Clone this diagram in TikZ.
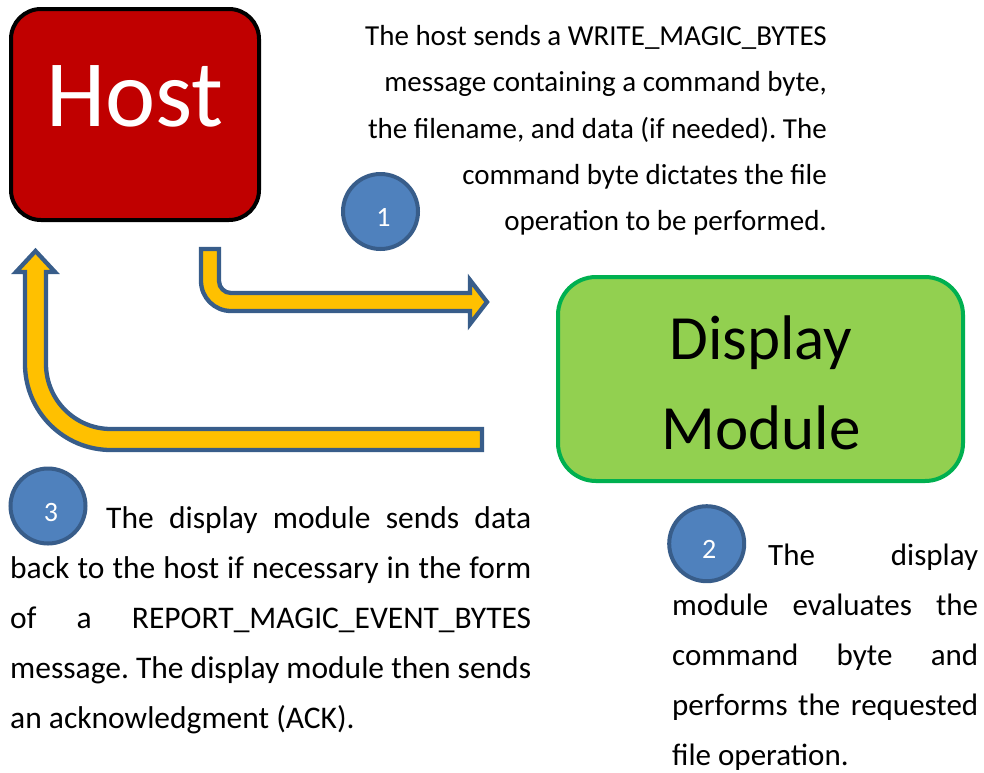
\documentclass[tikz,border=0pt]{standalone}
\usepackage{fontspec}
\setmainfont{Carlito}
\usetikzlibrary{calc}
\definecolor{hostred}{HTML}{C00000}
\definecolor{modgreen}{HTML}{92D050}
\definecolor{modedge}{HTML}{00B050}
\definecolor{stepblue}{HTML}{4F81BD}
\definecolor{edgeblue}{HTML}{385D8A}
\definecolor{flowyellow}{HTML}{FFC000}
\frenchspacing
\begin{document}
\begin{tikzpicture}[x=1pt,y=-1pt,
  hostbox/.style={rectangle, rounded corners=30pt, draw=black, line width=4pt,
    fill=hostred, minimum width=248pt, minimum height=211pt, inner sep=0pt},
  modbox/.style={rectangle, rounded corners=38pt, draw=modedge, line width=4pt,
    fill=modgreen, minimum width=405pt, minimum height=204pt, inner sep=0pt},
  boxlabel/.style={inner sep=0pt, anchor=base},
  badge/.style={circle, draw=edgeblue, line width=4pt, fill=stepblue,
    minimum size=75pt, inner sep=0pt},
  badgenum/.style={text=white, font=\fontsize{28}{28}\selectfont, inner sep=0pt},
  flow/.style={draw=edgeblue, line width=4.3pt, fill=flowyellow, line join=miter},
  note/.style={inner sep=0pt}
]
\useasboundingbox (0,0) rectangle (984,772);

% the two blocks
\node[hostbox] (host) at (135,114.5) {};
\node[boxlabel, text=white, font=\fontsize{95}{95}\selectfont] (hostlabel) at (135,126) {Host};
\node[modbox] (module) at (760.5,379) {};
\node[boxlabel, font=\fontsize{63}{63}\selectfont] (modlabelA) at (761,359) {Display};
\node[boxlabel, font=\fontsize{63}{63}\selectfont] (modlabelB) at (761,449) {Module};

% step 1: bent arrow from the host to the module
\path[flow] (201,249) -- (219,249) -- (219,281)
  arc[start angle=180, end angle=90, radius=12] -- (470,293) -- (470,280)
  -- (487,302) -- (470,324) -- (470,311) -- (231,311)
  arc[start angle=90, end angle=180, radius=30] -- cycle;

% step 3: bent arrow from the module back to the host
\path[flow] (482,429) -- (482,450) -- (111,450)
  arc[start angle=90, end angle=180, radius=86] -- (25,272) -- (16,272)
  -- (35.5,251) -- (55,272) -- (46,272) -- (46,364)
  arc[start angle=180, end angle=90, radius=65] -- cycle;

% numbered badges
\node[badge] (b1) at (380.5,211.5) {};
\node[badgenum] (n1) at ($(b1.center)+(3,5.5)$) {1};
\node[badge] (b2) at (706.7,543.7) {};
\node[badgenum] (n2) at ($(b2.center)+(2.6,6)$) {2};
\node[badge] (b3) at (48,506) {};
\node[badgenum] (n3) at ($(b3.center)+(3,6)$) {3};

% descriptions
\node[note, anchor=base east] (t1) at (827,45.7) {\parbox[t]{480pt}{\raggedleft
  \fontsize{29}{46.25}\selectfont
  The host sends a WRITE\_MAGIC\_BYTES\\
  message containing a command byte,\\
  the filename, and data (if needed). The\\
  command byte dictates the file\\
  operation to be performed.}};

\node[note, anchor=base west] (t3) at (10,528) {\parbox[t]{521pt}{%
  \fontsize{31.5}{50}\selectfont\tolerance=10000\hyphenpenalty=10000
  \hspace*{96pt}The display module sends data\linebreak
  back to the host if necessary in the form\linebreak
  of a REPORT\_MAGIC\_EVENT\_BYTES\linebreak
  message. The display module then sends\linebreak
  an acknowledgment (ACK).}};

\node[note, anchor=base west] (t2) at (672,565.7) {\parbox[t]{306pt}{%
  \fontsize{31}{50}\selectfont\tolerance=10000\hyphenpenalty=10000
  \hspace*{96pt}The display\linebreak
  module evaluates the\linebreak
  command byte and\linebreak
  performs the requested\linebreak
  file operation.}};
\end{tikzpicture}
\end{document}
